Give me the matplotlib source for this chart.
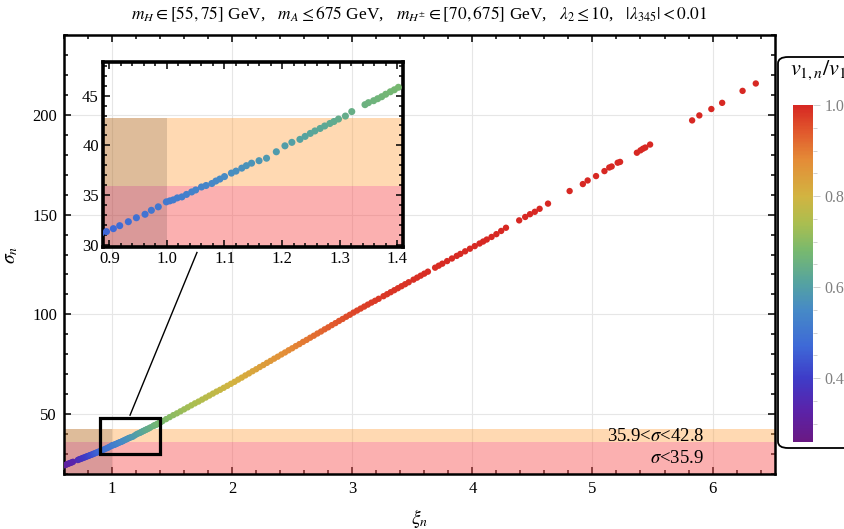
import matplotlib
matplotlib.use("Agg")
import matplotlib.pyplot as plt
from matplotlib.colors import LinearSegmentedColormap, Normalize
from matplotlib.patches import Rectangle, FancyBboxPatch
from matplotlib.ticker import MultipleLocator, FormatStrFormatter

plt.rcParams["font.family"] = ["Liberation Serif", "DejaVu Serif"]
plt.rcParams["mathtext.fontset"] = "stix"

# scan points: xi_n, sigma_n and the vev ratio v_{1,n}/v_1 used for colour
xi = [0.605, 0.615, 0.625, 0.635, 0.645, 0.655, 0.665, 0.675, 0.715, 0.725,
      0.735, 0.745, 0.755, 0.765, 0.775, 0.785, 0.795, 0.805, 0.815, 0.825,
      0.835, 0.845, 0.855, 0.865, 0.875, 0.885,
      0.895, 0.907, 0.918, 0.933, 0.947, 0.962, 0.973, 0.985, 0.999, 1.005,
      1.011, 1.018, 1.026, 1.034, 1.043, 1.05, 1.06, 1.068, 1.078, 1.085,
      1.092, 1.10, 1.112, 1.12, 1.13, 1.138, 1.147, 1.16, 1.173, 1.19,
      1.205, 1.217, 1.231, 1.24, 1.249, 1.257, 1.266, 1.274, 1.283, 1.29,
      1.298, 1.31, 1.321, 1.344, 1.35, 1.359, 1.366, 1.373, 1.38, 1.388,
      1.395, 1.402,
      1.42, 1.45, 1.48, 1.51, 1.54, 1.57, 1.60, 1.63, 1.66, 1.69,
      1.72, 1.75, 1.78, 1.81, 1.84, 1.87, 1.90, 1.93, 1.96, 1.99,
      2.02, 2.05, 2.08, 2.11, 2.14, 2.17, 2.20, 2.23, 2.26, 2.29,
      2.32, 2.35, 2.38, 2.41, 2.44, 2.47, 2.50, 2.53, 2.56, 2.59,
      2.62, 2.65, 2.68, 2.71, 2.74, 2.77, 2.80, 2.83, 2.86, 2.89,
      2.92, 2.95, 2.98, 3.01, 3.04, 3.07, 3.10, 3.13, 3.16, 3.19,
      3.22, 3.26, 3.29, 3.32, 3.35, 3.38, 3.41, 3.44, 3.47, 3.51,
      3.54, 3.57, 3.60, 3.63, 3.69, 3.72, 3.75, 3.79, 3.83, 3.87,
      3.90, 3.94, 3.98, 4.02, 4.06, 4.09, 4.12, 4.16, 4.20, 4.24,
      4.28, 4.39, 4.44, 4.48, 4.52, 4.56, 4.63, 4.81, 4.92, 4.96,
      5.03, 5.10, 5.14, 5.16, 5.21, 5.23, 5.37, 5.40, 5.42, 5.44,
      5.48, 5.83, 5.89, 5.99, 6.08, 6.25, 6.36]

sigma = [24.4, 24.6, 24.9, 25.1, 25.4, 25.6, 25.8, 26.1, 27.0, 27.3,
         27.5, 27.7, 28.0, 28.2, 28.4, 28.7, 28.9, 29.1, 29.4, 29.6,
         29.8, 30.1, 30.3, 30.6, 30.8, 31.1,
         31.3, 31.6, 31.9, 32.3, 32.7, 33.05, 33.45, 33.8, 34.3, 34.4,
         34.5, 34.7, 34.8, 35.05, 35.3, 35.5, 35.8, 35.95, 36.15, 36.4,
         36.6, 36.85, 37.2, 37.4, 37.7, 37.95, 38.2, 38.45, 38.7, 39.35,
         39.95, 40.3, 40.6, 40.9, 41.2, 41.45, 41.7, 41.95, 42.2, 42.4,
         42.65, 42.95, 43.4, 44.1, 44.3, 44.5, 44.7, 44.9, 45.15, 45.4,
         45.6, 45.85,
         46.5, 47.5, 48.5, 49.5, 50.4, 51.4, 52.4, 53.4, 54.4, 55.4,
         56.3, 57.3, 58.3, 59.3, 60.3, 61.3, 62.2, 63.2, 64.2, 65.2,
         66.2, 67.3, 68.3, 69.4, 70.4, 71.5, 72.5, 73.6, 74.6, 75.7,
         76.7, 77.8, 78.8, 79.9, 80.9, 82.0, 83.0, 84.1, 85.1, 86.2,
         87.2, 88.3, 89.3, 90.4, 91.4, 92.5, 93.5, 94.6, 95.6, 96.7,
         97.7, 98.8, 99.8, 100.9, 101.9, 102.9, 103.9, 104.9, 105.9, 106.8,
         107.8, 109.1, 110.1, 111.1, 112.1, 113.1, 114.1, 115.1, 116.1, 117.4,
         118.4, 119.4, 120.4, 121.4, 123.4, 124.4, 125.4, 126.7, 128.0, 129.3,
         130.3, 131.6, 132.9, 134.2, 135.5, 136.5, 137.5, 138.8, 140.2, 141.8,
         143.4, 147.1, 148.8, 150.2, 151.4, 152.9, 155.5, 161.8, 165.3, 167.1,
         169.3, 171.8, 173.6, 174.1, 176.0, 176.4, 181.0, 182.2, 183.0, 183.6,
         185.1, 197.2, 199.7, 202.9, 206.0, 212.0, 215.7]

v_ratio = [0.300, 0.305, 0.310, 0.315, 0.320, 0.325, 0.330, 0.335, 0.355, 0.360,
           0.366, 0.372, 0.378, 0.384, 0.390, 0.396, 0.402, 0.408, 0.414, 0.420,
           0.427, 0.434, 0.441, 0.448, 0.455, 0.462,
           0.467, 0.472, 0.477, 0.483, 0.489, 0.495, 0.500, 0.505, 0.510, 0.513,
           0.515, 0.518, 0.522, 0.525, 0.529, 0.532, 0.536, 0.540, 0.544, 0.547,
           0.550, 0.553, 0.558, 0.562, 0.566, 0.570, 0.573, 0.579, 0.584, 0.591,
           0.597, 0.602, 0.608, 0.612, 0.616, 0.619, 0.623, 0.626, 0.630, 0.633,
           0.636, 0.641, 0.645, 0.655, 0.658, 0.661, 0.664, 0.667, 0.670, 0.673,
           0.676, 0.679,
           0.684, 0.692, 0.699, 0.706, 0.712, 0.718, 0.724, 0.730, 0.736, 0.742,
           0.748, 0.753, 0.759, 0.765, 0.771, 0.777, 0.782, 0.788, 0.794, 0.799,
           0.804, 0.809, 0.814, 0.819, 0.824, 0.829, 0.834, 0.839, 0.844, 0.849,
           0.854, 0.859, 0.864, 0.869, 0.874, 0.879, 0.884, 0.889, 0.894, 0.899,
           0.904, 0.909, 0.914, 0.919, 0.924, 0.929, 0.934, 0.938, 0.942, 0.946,
           0.950, 0.954, 0.958, 0.961, 0.964, 0.967, 0.970, 0.972, 0.974, 0.976,
           0.978, 0.980, 0.982, 0.983, 0.984, 0.985, 0.986, 0.987, 0.988, 0.989,
           0.990, 0.991, 0.992, 0.993, 0.994, 0.994, 0.995, 0.995, 0.996, 0.996,
           0.996, 0.997, 0.997, 0.997, 0.998, 0.998, 0.998, 0.998, 0.998, 0.999,
           0.999, 0.999, 0.999, 0.999, 0.999, 0.999, 1.0, 1.0, 1.0, 1.0,
           1.0, 1.0, 1.0, 1.0, 1.0, 1.0, 1.0, 1.0, 1.0, 1.0,
           1.0, 1.0, 1.0, 1.0, 1.0, 1.0, 1.0]

# excluded sigma regions
sigma_low = 35.9
sigma_high = 42.8
xi_cut = 1.0

# colour scale (purple -> blue -> teal -> green -> yellow -> red)
vmin, vmax = 0.26, 1.0
anchors = [(0.26, "#6a1983"), (0.33, "#5a23aa"), (0.40, "#3e3cc8"),
           (0.47, "#3e69d7"), (0.55, "#468ac6"), (0.61, "#55a3a0"),
           (0.68, "#78b96e"), (0.74, "#aabe50"), (0.80, "#d2b441"),
           (0.88, "#e48c37"), (0.94, "#e15a2d"), (1.00, "#d72823")]
cmap = LinearSegmentedColormap.from_list(
    "rainbow_mma", [((v - vmin) / (vmax - vmin), c) for v, c in anchors])
norm = Normalize(vmin, vmax)

fig = plt.figure(figsize=(8.44, 5.29), dpi=100)
ax = fig.add_axes([64 / 844, 55 / 529, 711 / 844, 439 / 529])


def shade(a, x0, x1, y0):
    a.axhspan(y0, sigma_low, color="#f85050", alpha=0.45, lw=0, zorder=1)
    a.axhspan(sigma_low, sigma_high, color="#ffa040", alpha=0.4, lw=0, zorder=1)
    a.add_patch(Rectangle((x0, y0), xi_cut - x0, sigma_high - y0,
                          color="black", alpha=0.13, lw=0, zorder=1.5))


def style_ticks(a, lw):
    a.tick_params(which="both", direction="in", top=True, right=True,
                  labelsize=12, width=1.1, pad=5)
    a.tick_params(which="major", length=5)
    a.tick_params(which="minor", length=3)
    for s in a.spines.values():
        s.set_linewidth(lw)


xlim = (0.6, 6.52)
ylim = (20, 240)
ax.set_xlim(*xlim)
ax.set_ylim(*ylim)
shade(ax, xlim[0], xlim[1], ylim[0])
ax.grid(True, color="#e6e6e6", lw=0.8, zorder=0)
ax.set_axisbelow(True)
ax.scatter(xi, sigma, c=v_ratio, cmap=cmap, norm=norm, s=21, lw=0, zorder=3)
ax.xaxis.set_major_locator(MultipleLocator(1))
ax.xaxis.set_minor_locator(MultipleLocator(0.2))
ax.yaxis.set_major_locator(MultipleLocator(50))
ax.yaxis.set_minor_locator(MultipleLocator(10))
ax.set_yticks([50, 100, 150, 200])
style_ticks(ax, 1.8)
ax.set_xlabel(r"$\xi_n$", fontsize=14, labelpad=7)
ax.set_ylabel(r"$\sigma_n$", fontsize=14, labelpad=9)

ax.text(5.93, 38.6, r"35.9<$\sigma$<42.8", fontsize=13.5, ha="right", va="center", zorder=4)
ax.text(5.93, 28.0, r"$\sigma$<35.9", fontsize=13.5, ha="right", va="center", zorder=4)

# zoom box and its pointer to the inset
ax.add_patch(Rectangle((0.9, 30), 0.5, 18, fill=False, ec="black", lw=2.3, zorder=5))
ax.plot([1.15, 1.707], [49.5, 131], color="black", lw=1.0, zorder=5)

# inset
ins = fig.add_axes([103 / 844, 282 / 529, 300 / 844, 185 / 529])
ins.set_facecolor("none")
ix, iy = (0.889, 1.41), (29.75, 48.4)
ins.set_xlim(*ix)
ins.set_ylim(*iy)
shade(ins, ix[0], ix[1], iy[0])
ins.scatter(xi, sigma, c=v_ratio, cmap=cmap, norm=norm, s=26, lw=0, zorder=3)
ins.xaxis.set_major_locator(MultipleLocator(0.1))
ins.xaxis.set_minor_locator(MultipleLocator(0.02))
ins.yaxis.set_major_locator(MultipleLocator(5))
ins.yaxis.set_minor_locator(MultipleLocator(1))
ins.xaxis.set_major_formatter(FormatStrFormatter("%.1f"))
style_ticks(ins, 2.6)
ins.tick_params(pad=3)

# colour bar in a rounded legend box
box = FancyBboxPatch((778 / 844, 81 / 529), 100 / 844, 391 / 529,
                     boxstyle="round,pad=0,rounding_size=0.012",
                     transform=fig.transFigure, fc="white", ec="black",
                     lw=1.3, clip_on=False, zorder=0.5)
fig.patches.append(box)
cax = fig.add_axes([793 / 844, 87 / 529, 20 / 844, 337 / 529])
cax.set_zorder(2)
cb = fig.colorbar(plt.cm.ScalarMappable(norm=norm, cmap=cmap), cax=cax)
cb.outline.set_visible(False)
cb.set_ticks([0.4, 0.6, 0.8, 1.0])
cb.ax.yaxis.set_minor_locator(MultipleLocator(0.05))
cb.ax.tick_params(which="both", colors="#c8c8c8", labelcolor="#808080",
                  labelsize=11.5, width=0.6)
cb.ax.tick_params(which="major", length=5)
cb.ax.tick_params(which="minor", length=3)
cb.ax.yaxis.set_major_formatter(FormatStrFormatter("%.1f"))
fig.text(790 / 844, 1 - 70 / 529, r"$v_{1,n}/v_1$", fontsize=16, ha="left",
         va="center", zorder=3)

fig.text(0.497, 1 - 14 / 529,
         r"$m_H \in [55, 75]$ GeV,   $m_A \leq 675$ GeV,   "
         r"$m_{H^{\pm}} \in [70, 675]$ GeV,   $\lambda_2 \leq 10$,   "
         r"$|\lambda_{345}| < 0.01$",
         fontsize=12.5, ha="center", va="center")

fig.savefig("out.png", dpi=100)
